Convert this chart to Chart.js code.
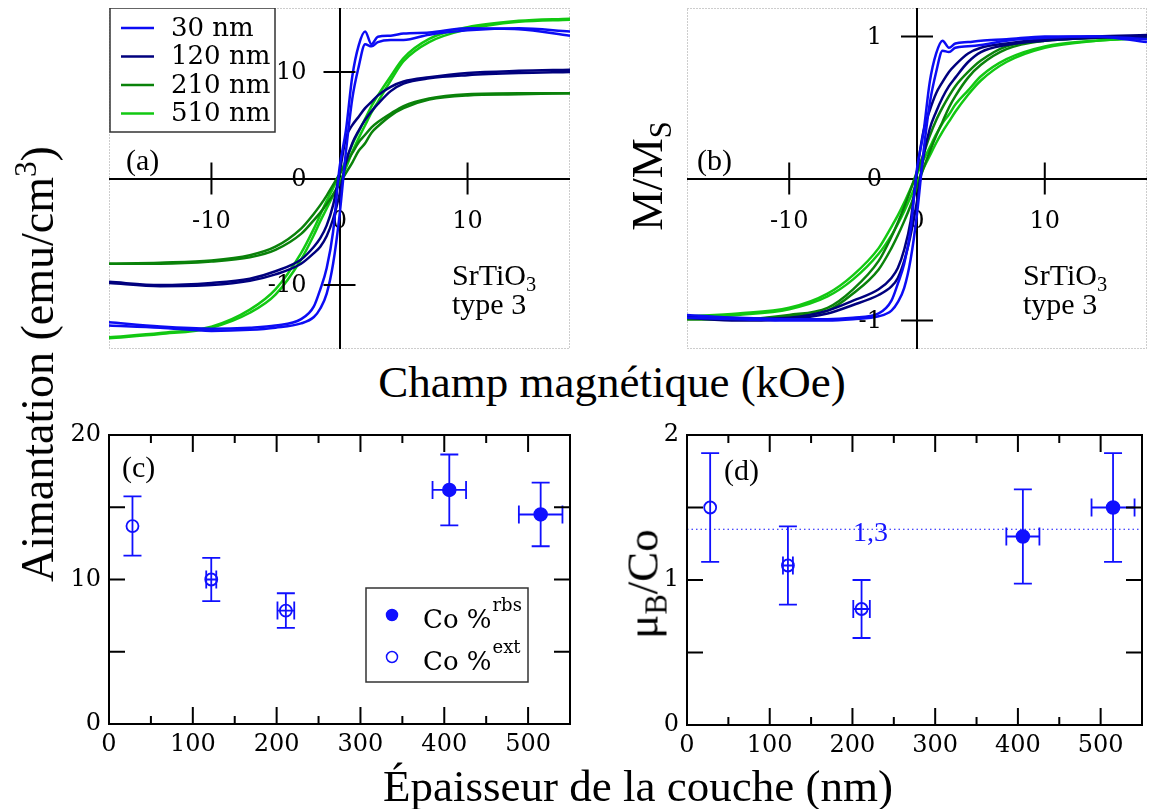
<!DOCTYPE html>
<html lang="fr">
<head>
<meta charset="UTF-8">
<title>Aimantation des couches Co/SrTiO3</title>
<script src="https://cdn.jsdelivr.net/npm/chart.js"></script>
<style>
  body { margin: 0; background: #fff; }
  #page { position: relative; width: 1150px; height: 809px; font-family: 'Liberation Serif', 'Times New Roman', serif; color: #000; overflow: hidden; }
  canvas { position: absolute; }
  .txt { position: absolute; white-space: nowrap; line-height: 1; }
  .rot { transform: translate(-50%, -50%) rotate(-90deg); }
  .ctr { transform: translate(-50%, -50%); }
  sub { font-size: 0.68em; vertical-align: -0.3em; line-height: 0; }
  sup { font-size: 0.68em; vertical-align: 0.55em; line-height: 0; }
</style>
</head>
<body>
<div id="page">
  <canvas id="chartA" width="461" height="341" style="left:109px; top:8px;"></canvas>
  <canvas id="chartB" width="460" height="341" style="left:687px; top:8px;"></canvas>
  <canvas id="chartC" width="600" height="360" style="left:0px; top:415px;"></canvas>
  <canvas id="chartD" width="550" height="360" style="left:600px; top:415px;"></canvas>

  <div class="txt" style="left:126px; top:145px; font-size:30px;">(a)</div>
  <div class="txt" style="left:697px; top:145px; font-size:30px;">(b)</div>
  <div class="txt" style="left:122px; top:452px; font-size:30px;">(c)</div>
  <div class="txt" style="left:724px; top:455px; font-size:30px;">(d)</div>
  <div class="txt" style="left:452px; top:260px; font-size:30px; line-height:29px;">SrTiO<sub>3</sub><br>type 3</div>
  <div class="txt" style="left:1023px; top:260px; font-size:30px; line-height:29px;">SrTiO<sub>3</sub><br>type 3</div>
  <div class="txt" style="left:853px; top:518px; font-size:28px; color:#1414ff;">1,3</div>

  <div class="txt ctr" style="left:612px; top:382px; font-size:45px;">Champ magnétique (kOe)</div>
  <div class="txt ctr" style="left:638px; top:786px; font-size:45px;">Épaisseur de la couche (nm)</div>
  <div class="txt rot" style="left:38px; top:364px; font-size:46px;">Aimantation (emu/cm<sup>3</sup>)</div>
  <div class="txt rot" style="left:647px; top:176px; font-size:45px;">M/M<sub>S</sub></div>
  <div class="txt rot" style="left:643px; top:584px; font-size:45px;">μ<sub>B</sub>/Co</div>
</div>

<script>
// champ appliqué (kOe), même grille pour les deux branches du cycle
const fieldKOe = [-18, -14, -10, -7, -5, -3, -2, -1.5, -1, -0.5, 0, 0.5, 1, 1.5, 2, 2.5, 3, 4, 5, 7, 10, 14, 18];

// (a) aimantation (emu/cm3), branche montante / descendante
const mag30Up    = [-13.8, -14.0, -14.3, -14.2, -14.0, -13.6, -13.0, -12.2, -10.8, -8.0, -3.5, 2.5, 7.5, 10.5, 12.6, 12.4, 12.8, 13.0, 13.0, 13.5, 13.9, 14.1, 13.8];
const mag30Down  = [-13.5, -13.9, -14.1, -14.0, -13.8, -13.2, -12.0, -10.4, -8.4, -5.0, 1.0, 4.5, 9.6, 12.5, 13.8, 12.6, 13.3, 13.4, 13.6, 13.7, 14.1, 14.0, 13.4];
const mag120Up   = [-9.8, -10.1, -10.0, -9.6, -9.0, -8.0, -7.0, -6.4, -5.4, -3.8, -1.5, 1.5, 3.3, 4.5, 5.5, 6.3, 7.0, 8.2, 8.9, 9.4, 9.7, 9.9, 10.0];
const mag120Down = [-9.7, -10.0, -9.8, -9.4, -8.7, -7.6, -6.4, -5.6, -4.4, -2.5, 0.5, 3.8, 5.0, 5.8, 6.6, 7.2, 7.8, 8.6, 9.1, 9.5, 9.9, 10.1, 10.2];
const mag210Up   = [-8.0, -8.0, -7.8, -7.4, -6.7, -5.2, -3.9, -3.2, -2.4, -1.5, -0.5, 0.5, 1.5, 2.6, 3.3, 4.3, 4.9, 5.9, 6.6, 7.4, 7.8, 7.9, 8.0];
const mag210Down = [-8.0, -7.9, -7.7, -7.2, -6.4, -4.7, -3.3, -2.5, -1.6, -0.6, 0.4, 1.4, 2.4, 3.4, 4.1, 4.8, 5.3, 6.1, 6.8, 7.5, 7.9, 8.0, 8.0];
const mag510Up   = [-15.0, -14.6, -14.0, -12.6, -10.9, -7.6, -5.3, -4.0, -2.8, -1.6, -0.4, 1.0, 2.5, 3.8, 5.0, 6.2, 7.2, 9.2, 11.0, 12.8, 14.0, 14.7, 14.9];
const mag510Down = [-14.9, -14.5, -13.9, -12.3, -10.4, -7.0, -4.7, -3.4, -2.1, -0.9, 0.4, 1.7, 3.2, 4.4, 5.6, 6.8, 7.8, 9.6, 11.3, 13.1, 14.2, 14.8, 15.0];

// (b) aimantation normalisée M/Ms
const norm30Up    = [-0.98, -0.99, -1.0, -1.0, -0.99, -0.97, -0.93, -0.87, -0.77, -0.57, -0.25, 0.18, 0.53, 0.75, 0.90, 0.89, 0.92, 0.93, 0.94, 0.97, 0.99, 1.0, 0.98];
const norm30Down  = [-0.96, -0.98, -0.99, -0.99, -0.98, -0.95, -0.86, -0.74, -0.60, -0.36, 0.07, 0.32, 0.68, 0.88, 0.97, 0.92, 0.95, 0.96, 0.97, 0.98, 1.0, 1.0, 0.96];
const norm120Up   = [-0.98, -1.0, -0.99, -0.95, -0.89, -0.82, -0.76, -0.70, -0.58, -0.40, -0.16, 0.15, 0.35, 0.47, 0.57, 0.65, 0.71, 0.82, 0.89, 0.94, 0.97, 0.99, 1.0];
const norm120Down = [-0.97, -0.99, -0.98, -0.93, -0.86, -0.78, -0.70, -0.63, -0.50, -0.30, 0.05, 0.33, 0.48, 0.60, 0.68, 0.75, 0.80, 0.88, 0.92, 0.95, 0.98, 1.0, 1.01];
const norm210Up   = [-0.99, -0.99, -0.97, -0.93, -0.81, -0.64, -0.49, -0.40, -0.30, -0.19, -0.06, 0.07, 0.19, 0.30, 0.40, 0.50, 0.58, 0.71, 0.80, 0.91, 0.97, 0.99, 1.0];
const norm210Down = [-0.99, -0.99, -0.96, -0.91, -0.78, -0.58, -0.41, -0.31, -0.20, -0.08, 0.05, 0.17, 0.30, 0.41, 0.50, 0.58, 0.65, 0.75, 0.83, 0.93, 0.97, 0.99, 1.0];
const norm510Up   = [-0.98, -0.96, -0.92, -0.83, -0.71, -0.53, -0.40, -0.32, -0.23, -0.13, -0.03, 0.07, 0.16, 0.25, 0.33, 0.40, 0.47, 0.59, 0.69, 0.82, 0.92, 0.97, 0.99];
const norm510Down = [-0.97, -0.95, -0.91, -0.81, -0.68, -0.49, -0.34, -0.26, -0.17, -0.07, 0.03, 0.13, 0.22, 0.31, 0.39, 0.45, 0.52, 0.62, 0.72, 0.84, 0.93, 0.97, 0.99];

// (c)/(d) épaisseur (nm) et barres d'erreur
const thickExt    = [28, 122, 211];
const thickExtErr = [0, 6, 10];
const thickRbs    = [406, 515];
const thickRbsErr = [20, 26];
const aimExt      = [13.7, 10.0, 7.85];
const aimExtErr   = [2.05, 1.5, 1.2];
const aimRbs      = [16.2, 14.5];
const aimRbsErr   = [2.45, 2.2];
const muExt       = [1.5, 1.1, 0.8];
const muExtErr    = [0.375, 0.27, 0.2];
const muRbs       = [1.3, 1.5];
const muRbsErr    = [0.325, 0.375];
const muRef       = 1.35;

// ticks
const fieldTicks = [-10, 0, 10];
const magTicks   = [-10, 0, 10];
const normTicks  = [-1, 0, 1];
const thickTicks = [0, 50, 100, 150, 200, 250, 300, 350, 400, 450, 500, 550];
const aimTicks   = [0, 5, 10, 15, 20];
const muTicks    = [0, 0.5, 1, 1.5, 2];

const sizes  = ['30 nm', '120 nm', '210 nm', '510 nm'];
const colors = ['#0c0cf4', '#00007e', '#0a820a', '#12c812'];
const blue = '#1010ff';
// seule police à empattement trouvée par le canvas ici
const serif = 'DejaVu Serif';

function pts(xs, ys) {
  return xs.map((x, i) => ({x: x, y: ys[i]}));
}

function loopSets(ups, downs) {
  const sets = [];
  sizes.forEach((s, i) => {
    [ups[i], downs[i]].forEach(arr => sets.push({
      label: s,
      data: pts(fieldKOe, arr),
      borderColor: colors[i],
      borderWidth: 2.5,
      pointRadius: 0,
      showLine: true,
      cubicInterpolationMode: 'monotone'
    }));
  });
  return sets;
}

// axes qui se croisent en (0,0), graduations de part et d'autre
const crossAxes = {
  id: 'crossAxes',
  afterDraw(chart, args, o) {
    const {ctx, scales: {x, y}} = chart;
    const x0 = x.getPixelForValue(0), y0 = y.getPixelForValue(0);
    ctx.save();
    ctx.strokeStyle = '#000';
    ctx.lineWidth = 2;
    ctx.beginPath();
    x.ticks.forEach(t => {
      if (t.value === 0) return;
      const p = x.getPixelForValue(t.value);
      ctx.moveTo(p, y0 - o.len); ctx.lineTo(p, y0 + o.len);
    });
    y.ticks.forEach(t => {
      if (t.value === 0) return;
      const p = y.getPixelForValue(t.value);
      ctx.moveTo(x0 - o.len, p); ctx.lineTo(x0 + o.len, p);
    });
    ctx.stroke();
    ctx.fillStyle = '#000';
    ctx.font = '24px ' + serif;
    ctx.textAlign = 'right';
    ctx.textBaseline = 'middle';
    y.ticks.forEach(t => ctx.fillText(String(t.value), x0 - o.gap, y.getPixelForValue(t.value) + 1));
    ctx.restore();
  }
};

const dottedFrame = {
  id: 'dottedFrame',
  beforeDraw(chart) {
    const {ctx, chartArea: a} = chart;
    ctx.save();
    ctx.strokeStyle = '#9a9a9a';
    ctx.lineWidth = 1;
    ctx.setLineDash([1, 2]);
    ctx.strokeRect(a.left + 0.5, a.top + 0.5, a.width - 1, a.height - 1);
    ctx.restore();
  }
};

const sizeLegend = {
  id: 'sizeLegend',
  afterDraw(chart, args, o) {
    const ctx = chart.ctx;
    ctx.save();
    ctx.fillStyle = '#fff';
    ctx.fillRect(o.x, o.y, o.w, o.h);
    ctx.strokeStyle = '#333';
    ctx.lineWidth = 1.5;
    ctx.strokeRect(o.x, o.y, o.w, o.h);
    ctx.font = '26px ' + serif;
    ctx.textBaseline = 'middle';
    sizes.forEach((s, i) => {
      const yy = o.y + 20 + i * 28.5;
      ctx.strokeStyle = colors[i];
      ctx.lineWidth = 2.5;
      ctx.beginPath(); ctx.moveTo(o.x + 11, yy); ctx.lineTo(o.x + 44, yy); ctx.stroke();
      ctx.fillStyle = '#000';
      ctx.fillText(s, o.x + 61, yy + 1);
    });
    ctx.restore();
  }
};

const boxFrame = {
  id: 'boxFrame',
  afterDraw(chart, args, o) {
    const {ctx, chartArea: a, scales: {x, y}} = chart;
    ctx.save();
    ctx.strokeStyle = '#000';
    ctx.lineWidth = 2;
    ctx.strokeRect(a.left, a.top, a.width, a.height);
    ctx.beginPath();
    x.ticks.forEach(t => {
      const p = x.getPixelForValue(t.value);
      const l = t.value % o.xMajor === 0 ? 17 : 8;
      ctx.moveTo(p, a.bottom); ctx.lineTo(p, a.bottom - l);
      ctx.moveTo(p, a.top); ctx.lineTo(p, a.top + l);
    });
    y.ticks.forEach(t => {
      const p = y.getPixelForValue(t.value);
      ctx.moveTo(a.left, p); ctx.lineTo(a.left + 16, p);
      ctx.moveTo(a.right, p); ctx.lineTo(a.right - 16, p);
    });
    ctx.stroke();
    ctx.restore();
  }
};

const errorBars = {
  id: 'errorBars',
  beforeDatasetsDraw(chart) {
    const {ctx, scales: {x, y}} = chart;
    ctx.save();
    ctx.lineWidth = 1.8;
    chart.data.datasets.forEach(ds => {
      if (!ds.yErr) return;
      ctx.strokeStyle = ds.borderColor;
      ds.data.forEach((p, i) => {
        const px = x.getPixelForValue(p.x), py = y.getPixelForValue(p.y);
        const y1 = y.getPixelForValue(p.y + ds.yErr[i]), y2 = y.getPixelForValue(p.y - ds.yErr[i]);
        ctx.beginPath();
        ctx.moveTo(px, y1); ctx.lineTo(px, y2);
        ctx.moveTo(px - 9, y1); ctx.lineTo(px + 9, y1);
        ctx.moveTo(px - 9, y2); ctx.lineTo(px + 9, y2);
        if (ds.xErr[i]) {
          const x1 = x.getPixelForValue(p.x - ds.xErr[i]), x2 = x.getPixelForValue(p.x + ds.xErr[i]);
          ctx.moveTo(x1, py); ctx.lineTo(x2, py);
          ctx.moveTo(x1, py - 9); ctx.lineTo(x1, py + 9);
          ctx.moveTo(x2, py - 9); ctx.lineTo(x2, py + 9);
        }
        ctx.stroke();
      });
    });
    ctx.restore();
  }
};

const coLegend = {
  id: 'coLegend',
  afterDraw(chart, args, o) {
    if (!o.show) return;
    const ctx = chart.ctx;
    ctx.save();
    ctx.strokeStyle = '#333';
    ctx.lineWidth = 1.5;
    ctx.strokeRect(o.x, o.y, o.w, o.h);
    const rows = [{sup: 'rbs', fill: true}, {sup: 'ext', fill: false}];
    rows.forEach((r, i) => {
      const yy = o.y + 27 + i * 42;
      ctx.beginPath();
      ctx.arc(o.x + 26, yy, 5.5, 0, Math.PI * 2);
      ctx.strokeStyle = blue; ctx.lineWidth = 1.5;
      if (r.fill) { ctx.fillStyle = blue; ctx.fill(); }
      ctx.stroke();
      ctx.fillStyle = '#000';
      ctx.textBaseline = 'middle';
      ctx.font = '26px ' + serif;
      ctx.fillText('Co %', o.x + 57, yy + 6);
      const w = ctx.measureText('Co %').width;
      ctx.font = '18px ' + serif;
      ctx.fillText(r.sup, o.x + 58 + w, yy - 9);
    });
    ctx.restore();
  }
};

function loopScales(yMin, yMax, yTicks) {
  return {
    x: {
      type: 'linear', min: -18, max: 18, position: {y: 0},
      afterBuildTicks: s => { s.ticks = fieldTicks.map(v => ({value: v})); },
      afterFit: s => { s.paddingLeft = 0; s.paddingRight = 0; },
      ticks: {font: {size: 24}, padding: 29, maxRotation: 0, autoSkip: false},
      grid: {display: false, drawTicks: false},
      border: {color: '#000', width: 2}
    },
    y: {
      type: 'linear', min: yMin, max: yMax, position: {x: 0},
      afterBuildTicks: s => { s.ticks = yTicks.map(v => ({value: v})); },
      afterFit: s => { s.paddingTop = 0; s.paddingBottom = 0; },
      ticks: {display: false},
      grid: {display: false, drawTicks: false},
      border: {color: '#000', width: 2}
    }
  };
}

function boxScales(yMax, yTicks, yWidth, xHeight) {
  return {
    x: {
      type: 'linear', min: 0, max: 550,
      afterBuildTicks: s => { s.ticks = thickTicks.map(v => ({value: v})); },
      afterFit: s => { s.height = xHeight; s.paddingLeft = 0; s.paddingRight = 0; },
      ticks: {font: {size: 24}, padding: 6, maxRotation: 0, autoSkip: false, callback: v => (v % 100 === 0 ? v : '')},
      grid: {display: false, drawTicks: false},
      border: {display: false}
    },
    y: {
      type: 'linear', min: 0, max: yMax,
      afterBuildTicks: s => { s.ticks = yTicks.map(v => ({value: v})); },
      afterFit: s => { s.width = yWidth; s.paddingTop = 0; s.paddingBottom = 0; },
      ticks: {font: {size: 24}, padding: 8, autoSkip: false, callback: v => (v % (yMax / 2) === 0 ? v : '')},
      grid: {display: false, drawTicks: false},
      border: {display: false}
    }
  };
}

function pointSets(xr, yr, xre, yre, xe, ye, xee, yee) {
  return [
    {label: 'Co %rbs', data: pts(xr, yr), xErr: xre, yErr: yre, backgroundColor: blue, borderColor: blue, pointRadius: 6.5, pointBorderWidth: 1.5},
    {label: 'Co %ext', data: pts(xe, ye), xErr: xee, yErr: yee, backgroundColor: 'rgba(0,0,0,0)', borderColor: blue, pointRadius: 6, pointBorderWidth: 1.8}
  ];
}

Chart.defaults.font.family = serif;
Chart.defaults.color = '#000';
const baseOpts = {responsive: false, animation: false, events: []};

new Chart(document.getElementById('chartA'), {
  type: 'scatter',
  data: {datasets: loopSets([mag30Up, mag120Up, mag210Up, mag510Up], [mag30Down, mag120Down, mag210Down, mag510Down])},
  options: Object.assign({}, baseOpts, {
    plugins: {
      legend: {display: false}, tooltip: {enabled: false},
      crossAxes: {len: 16, gap: 33},
      sizeLegend: {x: 1, y: 0, w: 165, h: 124}
    },
    scales: loopScales(-16, 16, magTicks)
  }),
  plugins: [dottedFrame, crossAxes, sizeLegend]
});

new Chart(document.getElementById('chartB'), {
  type: 'scatter',
  data: {datasets: loopSets([norm30Up, norm120Up, norm210Up, norm510Up], [norm30Down, norm120Down, norm210Down, norm510Down])},
  options: Object.assign({}, baseOpts, {
    plugins: {legend: {display: false}, tooltip: {enabled: false}, crossAxes: {len: 16, gap: 35}},
    scales: loopScales(-1.2, 1.2, normTicks)
  }),
  plugins: [dottedFrame, crossAxes]
});

new Chart(document.getElementById('chartC'), {
  type: 'scatter',
  data: {datasets: pointSets(thickRbs, aimRbs, thickRbsErr, aimRbsErr, thickExt, aimExt, thickExtErr, aimExtErr)},
  options: Object.assign({}, baseOpts, {
    layout: {padding: {top: 20, right: 30, left: 0, bottom: 0}},
    plugins: {
      legend: {display: false}, tooltip: {enabled: false},
      boxFrame: {xMajor: 100},
      coLegend: {show: true, x: 366, y: 173, w: 162, h: 94}
    },
    scales: boxScales(20, aimTicks, 109, 51)
  }),
  plugins: [errorBars, boxFrame, coLegend]
});

const dSets = pointSets(thickRbs, muRbs, thickRbsErr, muRbsErr, thickExt, muExt, thickExtErr, muExtErr);
dSets.push({label: 'moyenne', data: pts([0, 550], [muRef, muRef]), showLine: true, borderColor: blue, borderWidth: 1, borderDash: [1.5, 3], pointRadius: 0});

new Chart(document.getElementById('chartD'), {
  type: 'scatter',
  data: {datasets: dSets},
  options: Object.assign({}, baseOpts, {
    layout: {padding: {top: 20, right: 2, left: 0, bottom: 0}},
    plugins: {legend: {display: false}, tooltip: {enabled: false}, boxFrame: {xMajor: 100}},
    scales: boxScales(2, muTicks, 87, 50)
  }),
  plugins: [errorBars, boxFrame]
});
</script>
</body>
</html>
